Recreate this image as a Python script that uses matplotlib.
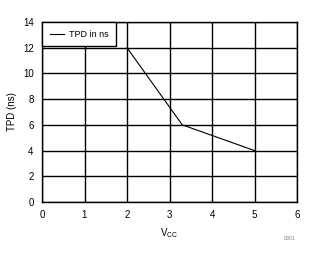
import matplotlib
matplotlib.use("Agg")
import matplotlib.pyplot as plt

plt.rcParams['font.family'] = ['Liberation Sans', 'DejaVu Sans']

# data
vcc = [2, 3.3, 5]
tpd = [12, 6, 4]
x_ticks = [0, 1, 2, 3, 4, 5, 6]
y_ticks = [0, 2, 4, 6, 8, 10, 12, 14]

fig = plt.figure(figsize=(3.26, 2.54), dpi=100)
ax = fig.add_axes([42 / 326, 1 - 202 / 254, 255 / 326, 180 / 254])

ax.plot(vcc, tpd, color='black', linewidth=0.8, label='TPD in ns')
ax.set_xlim(0, 6)
ax.set_ylim(0, 14)
ax.set_xticks(x_ticks)
ax.set_yticks(y_ticks)
ax.grid(True, color='black', linewidth=1)
ax.set_axisbelow(True)
for s in ax.spines.values():
    s.set_linewidth(1)
ax.tick_params(length=0, labelsize=7, pad=6)

ax.set_xlabel('V$_{\\mathregular{CC}}$', fontsize=7, labelpad=4)
ax.set_ylabel('TPD (ns)', fontsize=7, labelpad=4)

leg = ax.legend(loc='upper left', fontsize=6.5, frameon=True, fancybox=False,
                borderaxespad=0, handlelength=1.6, handletextpad=0.5,
                borderpad=0.85)
leg.get_frame().set_edgecolor('black')
leg.get_frame().set_linewidth(1)
leg.get_frame().set_alpha(1)

fig.text(290 / 326, 1 - 238 / 254, 'D001', fontsize=3.5, color='gray', ha='center', va='center')

fig.savefig('out.png', dpi=100)
